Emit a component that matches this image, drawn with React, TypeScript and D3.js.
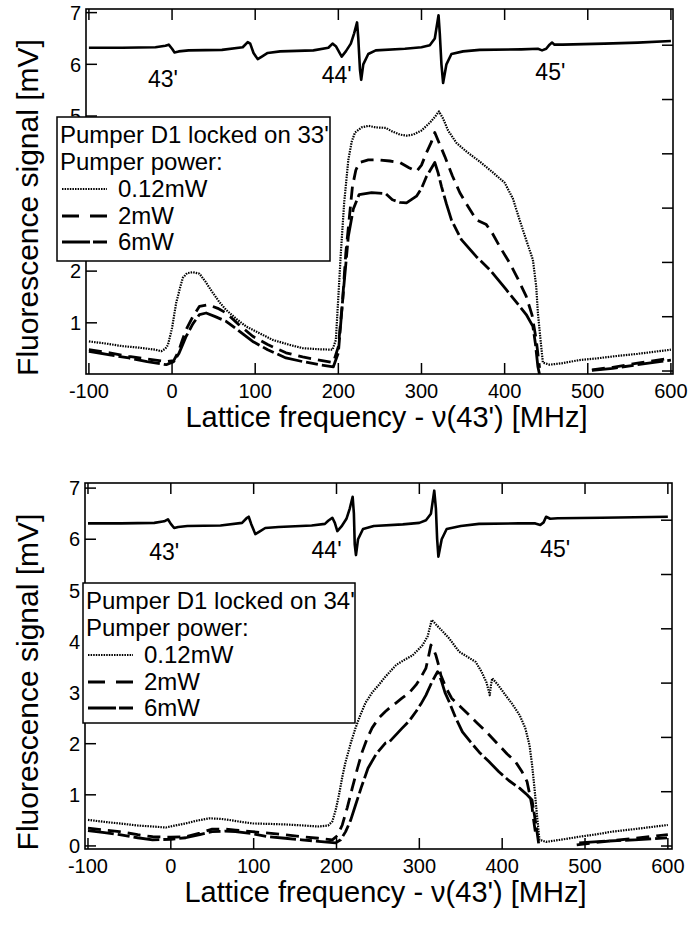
import React from "react";
import * as d3 from "d3";

type Pt = [number, number | null];

const FONT = "'Liberation Sans', Arial, Helvetica, sans-serif";

const xTicks = [-100, 0, 100, 200, 300, 400, 500, 600];
const leftTicks = [0, 1, 2, 3, 4, 5, 6, 7];
const leftLabelsTop = [1, 2, 5, 6, 7];
const leftLabelsBottom = [0, 1, 2, 3, 4, 5, 6, 7];
const rightTicks = [0, 1, 2, 3, 4, 5, 6];
const seriesNames = ["0.12mW", "2mW", "6mW"];
const lineLabels = ["43'", "44'", "45'"];
const topLabelPos: [number, number][] = [[-11, 5.57], [198, 5.63], [455, 5.7]];
const bottomLabelPos: [number, number][] = [[-8, 5.59], [188, 5.63], [464, 5.65]];
const legendTitles = ["Pumper D1 locked on 33'", "Pumper D1 locked on 34'"];
const legendSubtitle = "Pumper power:";

const topSat: Pt[] = [
  [-100, 6.32], [-60, 6.32], [-20, 6.33], [-8, 6.36], [-4, 6.38], [0, 6.3], [3, 6.23], [8, 6.25], [20, 6.27],
  [60, 6.28], [85, 6.33], [91, 6.43], [94, 6.4], [98, 6.22], [103, 6.1], [108, 6.15], [115, 6.22], [130, 6.25],
  [170, 6.27], [188, 6.32], [193, 6.4], [197, 6.35], [204, 6.15], [209, 6.25], [215, 6.4], [219, 6.6], [222.5, 6.81],
  [224, 6.5], [226, 5.9], [227.5, 5.7], [230, 6.0], [236, 6.2], [245, 6.27], [280, 6.3], [300, 6.33], [310, 6.37],
  [316, 6.5], [320.5, 6.95], [322, 6.6], [324, 6.0], [326, 5.64], [330, 6.0], [336, 6.2], [350, 6.25], [370, 6.28],
  [420, 6.29], [440, 6.3], [445, 6.27], [450, 6.3], [454, 6.38], [457, 6.42], [460, 6.38], [470, 6.38], [520, 6.4],
  [560, 6.42], [600, 6.45],
];

const top012: Pt[] = [
  [-100, 0.64], [-80, 0.6], [-60, 0.55], [-40, 0.52], [-20, 0.48], [-13, 0.45], [-8, 0.5], [-5, 0.57], [0, 0.9],
  [5, 1.39], [10, 1.7], [13, 1.87], [18, 1.96], [25, 1.98], [33, 1.95], [40, 1.8], [49, 1.58], [57, 1.4], [65, 1.25],
  [77, 1.08], [89, 0.93], [105, 0.8], [121, 0.67], [140, 0.58], [157, 0.51], [175, 0.49], [193, 0.48], [197, 0.67],
  [200, 1.5], [203, 2.35], [207, 3.32], [212, 4.15], [216, 4.5], [220, 4.68], [228, 4.78], [236, 4.81], [245, 4.78],
  [257, 4.77], [265, 4.7], [274, 4.64], [282, 4.62], [290, 4.64], [300, 4.72], [310, 4.87], [316, 4.98], [321, 5.09],
  [326, 4.95], [332, 4.72], [342, 4.48], [355, 4.3], [370, 4.12], [385, 3.92], [400, 3.71], [410, 3.4], [418, 2.99],
  [426, 2.6], [434, 2.22], [438, 1.7], [440, 1.19], [443, 0.7], [446, 0.23], [454, 0.19], [470, 0.22], [490, 0.28],
  [510, 0.31], [530, 0.35], [560, 0.4], [600, 0.48],
];

const top2: Pt[] = [
  [-100, 0.48], [-75, 0.42], [-52, 0.35], [-30, 0.3], [-7, 0.25], [2, 0.27], [8, 0.45], [12, 0.65], [17, 0.87],
  [25, 1.12], [33, 1.32], [43, 1.35], [55, 1.28], [65, 1.19], [80, 0.97], [97, 0.74], [115, 0.58], [137, 0.42],
  [157, 0.34], [177, 0.28], [194, 0.23], [200, 0.54], [205, 1.4], [209, 2.35], [213, 3.0], [217, 3.64], [221, 3.95],
  [225, 4.1], [236, 4.15], [250, 4.15], [262, 4.13], [274, 4.1], [285, 4.0], [294, 3.93], [300, 4.05], [306, 4.29],
  [312, 4.5], [316, 4.68], [322, 4.45], [328, 4.22], [337, 3.85], [346, 3.52], [356, 3.25], [366, 2.99], [378, 2.9],
  [385, 2.74], [395, 2.45], [406, 2.16], [416, 1.85], [426, 1.51], [433, 1.15], [438, 0.67], [442, 0.13],
  [470, null], [505, 0.09], [530, 0.14], [560, 0.22], [600, 0.32],
];

const top6: Pt[] = [
  [-100, 0.45], [-75, 0.38], [-52, 0.32], [-30, 0.25], [-7, 0.19], [2, 0.25], [8, 0.4], [12, 0.55], [17, 0.74],
  [25, 0.98], [33, 1.16], [41, 1.19], [52, 1.12], [65, 1.03], [80, 0.85], [97, 0.64], [115, 0.48], [137, 0.32],
  [157, 0.25], [177, 0.19], [194, 0.15], [200, 0.42], [206, 1.6], [212, 2.67], [218, 3.2], [225, 3.48], [240, 3.52],
  [257, 3.5], [265, 3.38], [274, 3.33], [282, 3.32], [294, 3.45], [300, 3.6], [306, 3.83], [316, 4.1], [320, 3.9],
  [324, 3.64], [330, 3.3], [336, 2.99], [348, 2.61], [366, 2.28], [382, 2.03], [402, 1.64], [426, 1.16], [434, 0.93],
  [437, 0.6], [440, 0.15], [442, 0.0], [470, null], [505, 0.08], [530, 0.12], [560, 0.19], [600, 0.28],
];

const bottomSat: Pt[] = [
  [-100, 6.31], [-60, 6.31], [-20, 6.32], [-8, 6.35], [-3.5, 6.39], [0, 6.3], [4, 6.22], [9, 6.24], [20, 6.26],
  [60, 6.27], [86, 6.32], [92, 6.42], [94, 6.44], [97, 6.3], [102, 6.1], [107, 6.15], [114, 6.22], [130, 6.24],
  [170, 6.27], [186, 6.3], [190, 6.36], [195, 6.42], [198, 6.32], [201, 6.16], [206, 6.25], [212, 6.4], [216, 6.6],
  [219.5, 6.83], [221, 6.5], [222, 5.9], [223.5, 5.69], [226, 6.0], [232, 6.2], [245, 6.26], [280, 6.29], [300, 6.32],
  [308, 6.37], [314, 6.5], [318, 6.95], [320, 6.6], [321.5, 6.0], [323, 5.66], [327, 6.0], [333, 6.2], [350, 6.26],
  [372, 6.3], [420, 6.31], [440, 6.31], [446, 6.28], [450, 6.33], [453, 6.44], [458, 6.4], [467, 6.41], [520, 6.42],
  [560, 6.43], [600, 6.44],
];

const bot012: Pt[] = [
  [-100, 0.51], [-80, 0.47], [-62, 0.44], [-40, 0.4], [-22, 0.38], [-6, 0.36], [5, 0.4], [18, 0.44], [30, 0.49],
  [46, 0.54], [60, 0.53], [70, 0.51], [85, 0.47], [99, 0.44], [120, 0.43], [139, 0.42], [160, 0.4], [178, 0.38],
  [190, 0.4], [195, 0.48], [199, 0.7], [203, 1.0], [207, 1.35], [211, 1.65], [217, 2.0], [223, 2.31], [229, 2.57],
  [235, 2.8], [243, 3.0], [251, 3.15], [259, 3.31], [272, 3.54], [282, 3.64], [292, 3.73], [304, 3.93], [310, 4.1],
  [315, 4.42], [318, 4.37], [322, 4.3], [328, 4.2], [336, 4.06], [348, 3.8], [358, 3.7], [368, 3.6], [375, 3.41],
  [381, 3.2], [385, 2.95], [386.5, 3.15], [388, 3.28], [395, 3.15], [404, 2.95], [412, 2.78], [421, 2.56], [428, 2.3],
  [433, 1.97], [436, 1.6], [439, 1.13], [442, 0.6], [445, 0.12], [453, 0.08], [470, 0.12], [493, 0.18], [515, 0.23],
  [533, 0.28], [560, 0.33], [600, 0.41],
];

const bot2: Pt[] = [
  [-100, 0.35], [-80, 0.31], [-62, 0.28], [-40, 0.22], [-22, 0.18], [0, 0.17], [18, 0.18], [35, 0.25], [50, 0.33],
  [65, 0.33], [78, 0.31], [98, 0.28], [118, 0.25], [138, 0.22], [158, 0.18], [178, 0.15], [195, 0.12], [201, 0.2],
  [207, 0.41], [213, 0.75], [219, 1.13], [225, 1.5], [231, 1.84], [237, 2.1], [243, 2.31], [251, 2.5], [259, 2.63],
  [264, 2.7], [272, 2.8], [279, 2.89], [288, 3.0], [296, 3.15], [302, 3.3], [308, 3.48], [311, 3.7], [314, 3.93],
  [317, 3.85], [320, 3.73], [323, 3.55], [326, 3.34], [332, 3.1], [339, 2.89], [350, 2.72], [360, 2.56], [370, 2.4],
  [381, 2.23], [396, 1.97], [406, 1.8], [416, 1.65], [424, 1.45], [430, 1.26], [434, 0.95], [436, 0.77], [438, 0.5],
  [440, 0.28], [465, null], [490, 0.02], [520, 0.08], [560, 0.15], [600, 0.22],
];

const bot6: Pt[] = [
  [-100, 0.3], [-80, 0.26], [-62, 0.22], [-40, 0.16], [-22, 0.12], [0, 0.13], [18, 0.16], [35, 0.22], [50, 0.28],
  [65, 0.29], [78, 0.28], [98, 0.24], [118, 0.18], [138, 0.15], [158, 0.12], [178, 0.09], [199, 0.06], [205, 0.12],
  [211, 0.28], [217, 0.5], [223, 0.8], [230, 1.15], [238, 1.52], [248, 1.8], [259, 2.01], [264, 2.04], [279, 2.3],
  [288, 2.45], [296, 2.63], [302, 2.78], [308, 2.95], [315, 3.2], [320, 3.35], [322, 3.41], [325, 3.3], [327, 3.21],
  [331, 3.0], [336, 2.82], [344, 2.5], [352, 2.23], [362, 2.03], [372, 1.84], [384, 1.65], [396, 1.45], [408, 1.28],
  [421, 1.13], [430, 1.0], [436, 0.9], [439, 0.6], [442, 0.28], [444, 0.05], [470, null], [493, 0.06], [520, 0.09],
  [560, 0.12], [600, 0.16],
];

const STYLES = [
  { width: 2.2, dash: "1.5,1.1", legendDash: "1.5,1.1" },
  { width: 2.8, dash: "13,7", legendDash: "17,11" },
  { width: 2.8, dash: "26,4,12,4", legendDash: "28,3,14,3" },
];

interface PanelProps {
  id: string;
  frame: { l: number; r: number; t: number; b: number };
  xDomain: [number, number];
  yDomain: [number, number];
  rDomain: [number, number];
  leftLabels: number[];
  sat: Pt[];
  series: Pt[][];
  labelPos: [number, number][];
  legend: { x: number; y: number; w: number; h: number; title: string };
}

function Panel(p: PanelProps) {
  const { l, r, t, b } = p.frame;
  const x = d3.scaleLinear().domain(p.xDomain).range([l, r]);
  const y = d3.scaleLinear().domain(p.yDomain).range([b, t]);
  const yr = d3.scaleLinear().domain(p.rDomain).range([b, t]);
  const line = d3
    .line<Pt>()
    .defined((d) => d[1] !== null)
    .x((d) => x(d[0]))
    .y((d) => y(d[1] as number));
  const tk = 11;
  const lg = p.legend;
  const rows = [lg.y + 26, lg.y + 53, lg.y + 80, lg.y + 107, lg.y + 133];
  const yTickVals = leftTicks.filter((v) => y(v) >= t && y(v) <= b - 2);
  return (
    <g>
      <defs>
        <clipPath id={`clip-${p.id}`}>
          <rect x={l} y={t} width={r - l} height={b - t} />
        </clipPath>
      </defs>
      {xTicks.map((v) => (
        <g key={`xt${v}`}>
          <line x1={x(v)} x2={x(v)} y1={b} y2={b - tk} stroke="#000" strokeWidth={1.5} />
          <line x1={x(v)} x2={x(v)} y1={t} y2={t + tk} stroke="#000" strokeWidth={1.5} />
          <text x={x(v)} y={b + 24} textAnchor="middle" fontSize={20} fontFamily={FONT}>
            {String(v)}
          </text>
        </g>
      ))}
      {yTickVals.map((v) => (
        <line key={`yt${v}`} x1={l} x2={l + tk} y1={y(v)} y2={y(v)} stroke="#000" strokeWidth={1.5} />
      ))}
      {p.leftLabels.map((v) => (
        <text key={`yl${v}`} x={l - 5} y={y(v)} dy="0.36em" textAnchor="end" fontSize={20} fontFamily={FONT}>
          {String(v)}
        </text>
      ))}
      {rightTicks.map((v) => (
        <line key={`rt${v}`} x1={r} x2={r - tk} y1={yr(v)} y2={yr(v)} stroke="#000" strokeWidth={1.5} />
      ))}
      <rect x={l} y={t} width={r - l} height={b - t} fill="none" stroke="#000" strokeWidth={1.6} />
      <g clipPath={`url(#clip-${p.id})`} fill="none" stroke="#000" strokeLinejoin="round">
        <path d={line(p.sat) || ""} strokeWidth={2.6} />
        {p.series.map((s, i) => (
          <path key={i} d={line(s) || ""} strokeWidth={STYLES[i].width} strokeDasharray={STYLES[i].dash} />
        ))}
      </g>
      {lineLabels.map((s, i) => (
        <text
          key={s}
          x={x(p.labelPos[i][0])}
          y={y(p.labelPos[i][1])}
          textAnchor="middle"
          fontSize={23}
          fontFamily={FONT}
        >
          {s}
        </text>
      ))}
      <rect x={lg.x} y={lg.y} width={lg.w} height={lg.h} fill="#fff" stroke="#000" strokeWidth={1.5} />
      <text x={lg.x + 3} y={rows[0]} fontSize={24} fontFamily={FONT}>
        {lg.title}
      </text>
      <text x={lg.x + 3} y={rows[1]} fontSize={24} fontFamily={FONT}>
        {legendSubtitle}
      </text>
      {seriesNames.map((n, i) => (
        <g key={n}>
          <line
            x1={lg.x + 5}
            x2={lg.x + 50}
            y1={rows[i + 2] - 8}
            y2={rows[i + 2] - 8}
            stroke="#000"
            strokeWidth={STYLES[i].width}
            strokeDasharray={STYLES[i].legendDash}
          />
          <text x={lg.x + 61} y={rows[i + 2]} fontSize={24} fontFamily={FONT}>
            {n}
          </text>
        </g>
      ))}
      <text
        transform={`translate(38,${(t + b) / 2 + 16}) rotate(-90)`}
        textAnchor="middle"
        fontSize={30}
        fontFamily={FONT}
      >
        Fluorescence signal [mV]
      </text>
      <text x={(l + r) / 2 + 7} y={b + 53} textAnchor="middle" fontSize={29} fontFamily={FONT}>
        Lattice frequency - ν(43') [MHz]
      </text>
    </g>
  );
}

export default function App() {
  return (
    <svg width={690} height={928} style={{ position: "absolute", left: 0, top: 0, background: "#fff" }}>
      <rect width={690} height={928} fill="#fff" />
      <Panel
        id="top"
        frame={{ l: 86, r: 673, t: 9, b: 374 }}
        xDomain={[-103.5, 602.5]}
        yDomain={[0.01, 7.07]}
        rDomain={[-0.055, 6.667]}
        leftLabels={leftLabelsTop}
        sat={topSat}
        series={[top012, top2, top6]}
        labelPos={topLabelPos}
        legend={{ x: 57, y: 117, w: 273, h: 144, title: legendTitles[0] }}
      />
      <Panel
        id="bottom"
        frame={{ l: 85, r: 672, t: 483, b: 849 }}
        xDomain={[-103.6, 605]}
        yDomain={[-0.06, 7.1]}
        rDomain={[-0.055, 6.685]}
        leftLabels={leftLabelsBottom}
        sat={bottomSat}
        series={[bot012, bot2, bot6]}
        labelPos={bottomLabelPos}
        legend={{ x: 83, y: 583, w: 272, h: 140, title: legendTitles[1] }}
      />
    </svg>
  );
}
